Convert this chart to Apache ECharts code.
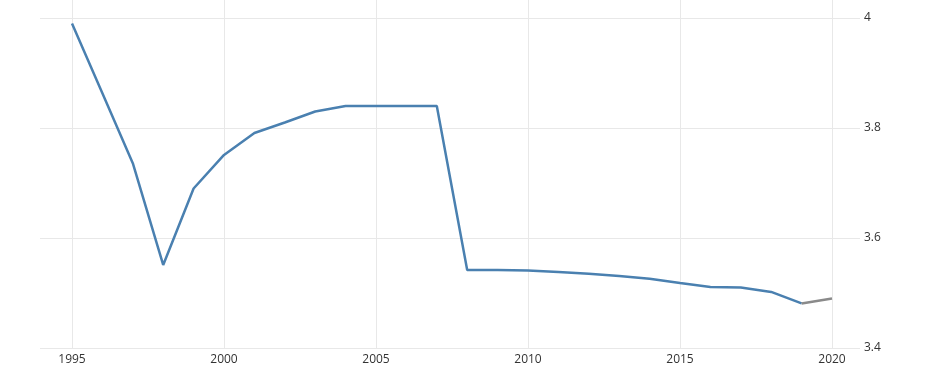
<!DOCTYPE html>
<html>
<head>
<meta charset="utf-8">
<script src="https://cdn.jsdelivr.net/npm/echarts@6/dist/echarts.min.js"></script>
<style>html,body{margin:0;padding:0;background:#fff;}#c{width:925px;height:381px;}</style>
</head>
<body>
<div id="c"></div>
<script>
var years = [1995,1996,1997,1998,1999,2000,2001,2002,2003,2004,2005,2006,2007,2008,2009,2010,2011,2012,2013,2014,2015,2016,2017,2018,2019,2020];
var values = [3.99,3.863,3.736,3.551,3.69,3.751,3.791,3.81,3.83,3.84,3.84,3.84,3.84,3.542,3.542,3.541,3.538,3.535,3.531,3.526,3.518,3.511,3.51,3.502,3.481,3.49];
var forecastFrom = 2019;
var yTicks = [3.4, 3.6, 3.8, 4];

var actual = [], forecast = [];
for (var i = 0; i < years.length; i++) {
  if (years[i] <= forecastFrom) actual.push([years[i], values[i]]);
  if (years[i] >= forecastFrom) forecast.push([years[i], values[i]]);
}
var yMin = yTicks[0], yMax = yTicks[yTicks.length - 1];
var gridColor = '#e8e8e8';
var chart = echarts.init(document.getElementById('c'));
chart.setOption({
  animation: false,
  backgroundColor: '#fff',
  grid: [
    {left: 72, right: 93, top: 0, bottom: 33},
    {left: 40, right: 65, top: 18, bottom: 33}
  ],
  xAxis: [
    {gridIndex: 0, type: 'value', min: years[0], max: years[years.length - 1], interval: 5,
     axisLine: {show: false}, axisTick: {show: false},
     splitLine: {show: true, lineStyle: {color: gridColor, width: 1}},
     axisLabel: {color: '#333', fontSize: 12, fontFamily: 'Open Sans, sans-serif', margin: 6,
                 formatter: function (v) { return String(v); }}},
    {gridIndex: 1, type: 'value', min: 0, max: 1, show: false}
  ],
  yAxis: [
    {gridIndex: 0, type: 'value', min: yMin, max: yMin + (yMax - yMin) * 348 / 330, show: false,
     splitLine: {show: false}},
    {gridIndex: 1, type: 'value', position: 'right', min: yMin, max: yMax, interval: 0.2,
     axisLine: {show: false}, axisTick: {show: false},
     splitLine: {show: true, lineStyle: {color: gridColor, width: 1}},
     axisLabel: {color: '#333', fontSize: 12, fontFamily: 'Open Sans, sans-serif', margin: 4,
                 formatter: function (v) { return String(+v.toFixed(1)); }}}
  ],
  series: [
    {type: 'line', xAxisIndex: 0, yAxisIndex: 0, data: actual, symbol: 'none',
     lineStyle: {color: '#4a80b0', width: 2.5}},
    {type: 'line', xAxisIndex: 0, yAxisIndex: 0, data: forecast, symbol: 'none',
     lineStyle: {color: '#8a8a8a', width: 2.5}}
  ]
});
</script>
</body>
</html>
